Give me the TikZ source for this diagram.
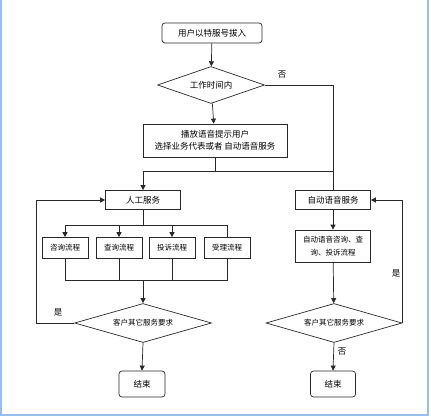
\documentclass[tikz,border=0pt]{standalone}
\usepackage{fontspec}
\newfontfamily\cjk{Noto Sans CJK SC}
\usetikzlibrary{shapes.geometric,arrows.meta}
\definecolor{framecol}{RGB}{150,190,238}
\definecolor{linecol}{RGB}{40,40,40}
\tikzset{
	box/.style={draw=linecol,line width=0.7pt,inner sep=1pt,align=center,font=\cjk\fontsize{8.5}{12}\selectfont},
	roundbox/.style={box,rounded corners=3pt},
	decision/.style={diamond,draw=linecol,line width=0.7pt,inner sep=0pt,aspect=3,font=\cjk\fontsize{7.5}{9}\selectfont},
	arr/.style={-{Triangle[length=5pt,width=5pt]}},
	lbl/.style={font=\cjk\fontsize{8.5}{10}\selectfont}
}
\begin{document}
	\begin{tikzpicture}[x=1pt,y=-1pt,line width=0.7pt,draw=linecol]
		\useasboundingbox (0,0) rectangle (431,417);
		\draw[framecol,line width=2pt] (1,0) -- (1,415) -- (428,415) -- (428,0);
	
		\node[roundbox,minimum width=100pt,minimum height=20pt] (start) at (212,33) {用户以特服号拔入};
		\node[decision,minimum width=107pt,minimum height=37pt,font=\cjk\fontsize{8.5}{10}\selectfont] (work) at (211,85) {工作时间内};
		\node[box,minimum width=144pt,minimum height=33pt] (prompt) at (215,140.5) {播放语音提示用户\\选择业务代表或者 自动语音服务};
		
		\node[box,minimum width=75pt,minimum height=19pt] (manual) at (143,200) {人工服务};
		\node[box,minimum width=75pt,minimum height=19pt] (auto) at (333,200) {自动语音服务};
		
		\node[box,minimum width=46pt,minimum height=21pt,font=\cjk\fontsize{7.5}{9}\selectfont] (consult) at (65,248) {咨询流程};
		\node[box,minimum width=46pt,minimum height=21pt,font=\cjk\fontsize{7.5}{9}\selectfont] (query) at (119,248) {查询流程};
		\node[box,minimum width=46pt,minimum height=21pt,font=\cjk\fontsize{7.5}{9}\selectfont] (complain) at (172,248) {投诉流程};
		\node[box,minimum width=46pt,minimum height=21pt,font=\cjk\fontsize{7.5}{9}\selectfont] (accept) at (227,248) {受理流程};
		
		\node[box,minimum width=75pt,minimum height=32pt,font=\cjk\fontsize{7.5}{13}\selectfont] (autoproc) at (333,246) {自动语音咨询、查\\询、投诉流程};
		
		\node[decision,minimum width=137pt,minimum height=39pt] (moreL) at (143,323) {客户其它服务要求};
		\node[decision,minimum width=136pt,minimum height=39pt] (moreR) at (334,323) {客户其它服务要求};
		
		\node[roundbox,minimum width=46pt,minimum height=26pt] (endL) at (142,384) {结束};
		\node[roundbox,minimum width=45pt,minimum height=26pt] (endR) at (333,384) {结束};
		
		\coordinate (split) at (prompt.south |- 0,171);
		\coordinate (fan) at (manual.south |- 0,225);
		\coordinate (merge) at (manual.south |- 0,280);
		
		\draw[arr] (start) -- (work);
		\draw[arr] (work) -- (prompt);
		\draw (work.east) -| (auto.north);
		\node[lbl] at (282,75) {否};
		
		\draw (prompt.south) -- (split);
		\draw[arr] (split) -| (manual.north);
		\draw (split) -| (auto.north);
		
		\draw (manual.south) -- (fan);
		\draw[arr] (fan) -| (consult.north);
		\draw[arr] (fan) -| (query.north);
		\draw[arr] (fan) -| (complain.north);
		\draw (fan) -| (accept.north);
		
		\draw (consult.south) |- (merge);
		\draw (query.south) |- (merge);
		\draw (complain.south) |- (merge);
		\draw (accept.south) |- (merge);
		\draw[arr] (merge) -- (moreL.north);
		
		\draw[arr] (moreL.west) -- ++(-38,0) |- (manual.west);
		\node[lbl] at (58,312) {是};
		\draw[arr] (moreL.south) -- (endL.north);
		
		\draw[arr] (auto) -- (autoproc);
		\draw[arr] (autoproc) -- (moreR);
		\draw[arr] (moreR.east) |- (auto.east);
		\node[lbl] at (396,273) {是};
		\draw[arr] (moreR.south) -- (endR.north);
		\node[lbl] at (342,352) {否};
	\end{tikzpicture}
\end{document}
